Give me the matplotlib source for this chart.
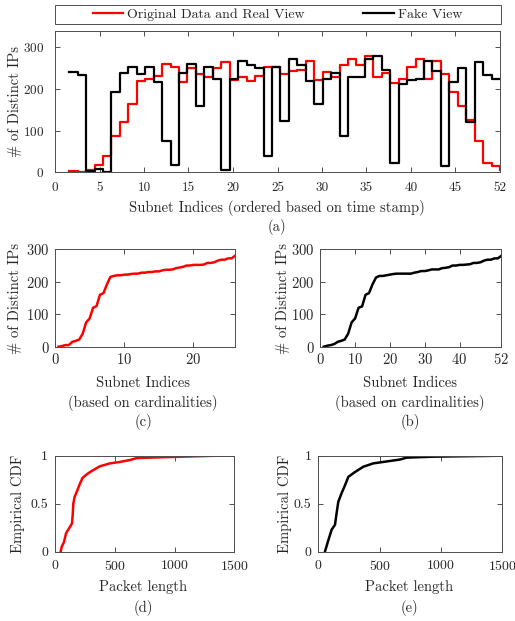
import matplotlib
matplotlib.use('Agg')
import matplotlib.pyplot as plt
import numpy as np
from matplotlib.patches import Rectangle

plt.rcParams['font.family'] = ['cmr10', 'DejaVu Serif']
plt.rcParams['mathtext.fontset'] = 'cm'
plt.rcParams['axes.formatter.use_mathtext'] = True

# ---------------------------------------------------------------------------
# data
# ---------------------------------------------------------------------------
# distinct IPs per subnet, ordered by time stamp (52 subnets)
real_view = [2, 0, 5, 18, 40, 87, 120, 165, 220, 224, 232, 260, 252, 218, 250,
             237, 230, 250, 265, 222, 230, 220, 232, 252, 253, 237, 244, 246,
             268, 222, 242, 228, 258, 272, 258, 280, 228, 238, 215, 225, 252,
             272, 225, 268, 235, 192, 160, 125, 75, 22, 15, 5]
fake_view = [242, 233, 3, 8, 0, 192, 238, 254, 235, 252, 218, 75, 18, 238, 260,
             160, 252, 225, 5, 225, 268, 258, 250, 40, 253, 124, 272, 258, 220,
             165, 225, 238, 87, 230, 228, 272, 280, 245, 22, 213, 222, 224, 268,
             243, 15, 218, 250, 120, 265, 233, 225, 225]

# empirical CDF of packet length
len_real = [47, 56, 75, 92, 111, 131, 142, 148, 153, 164, 187, 209, 231, 270,
            306, 376, 460, 543, 627, 682, 794, 1072, 1351, 1500]
cdf_real = [0, 0.05, 0.10, 0.19, 0.23, 0.27, 0.295, 0.38, 0.50, 0.57, 0.64,
            0.71, 0.77, 0.81, 0.84, 0.89, 0.92, 0.935, 0.955, 0.975, 0.98,
            0.99, 1.0, 1.0]
len_fake = [54, 82, 109, 136, 149, 163, 190, 217, 245, 299, 367, 448, 557, 666,
            720, 938, 1209, 1500]
cdf_fake = [0, 0.12, 0.23, 0.28, 0.40, 0.52, 0.61, 0.69, 0.78, 0.83, 0.885,
            0.92, 0.94, 0.96, 0.98, 0.99, 0.995, 1.0]

top_ticks = [0, 5, 10, 15, 20, 25, 30, 35, 40, 45, 50]
top_ticklabels = ['0', '5', '10', '15', '20', '25', '30', '35', '40', '45', '52']

W, H = 515, 621
fig = plt.figure(figsize=(W / 100, H / 100), dpi=100)
TXT = '#262626'


def box(l, t, r, b):
    # pixel box -> figure fraction
    return [l / W, 1 - b / H, (r - l) / W, (b - t) / H]


def style(ax, tsize, xpad, ypad):
    for s in ax.spines.values():
        s.set_color('0.3')
        s.set_linewidth(0.7)
    ax.tick_params(direction='in', length=3.5, width=0.7, color='0.3',
                   top=True, right=True, labelsize=tsize, labelcolor=TXT)
    ax.tick_params(axis='x', pad=xpad)
    ax.tick_params(axis='y', pad=ypad)


def ftext(x, y, s, size=10.5, rot=0):
    fig.text(x / W, 1 - y / H, s, ha='center', va='center', fontsize=size,
             color=TXT, rotation=rot)


# ---------------------------------------------------------------------------
# (a) time-ordered stairs
# ---------------------------------------------------------------------------
ax = fig.add_axes(box(55, 30.7, 500, 172.3))
x_top = np.linspace(1.6, 50, len(real_view))
l1, = ax.step(x_top, real_view, where='post', color='#ff0000', lw=1.6)
l2, = ax.step(x_top, fake_view, where='post', color='black', lw=1.6)
ax.set_xlim(0, 50)
ax.set_ylim(0, 340)
ax.set_xticks(top_ticks)
ax.set_xticklabels(top_ticklabels)
ax.set_yticks([0, 100, 200, 300])
style(ax, 9.5, 7, 8)
ftext(15, 101.5, '# of Distinct IPs', rot=90)
ftext(276.7, 208.3, 'Subnet Indices (ordered based on time stamp)')
ftext(276.7, 226.7, '(a)')

fig.patches.append(Rectangle((55 / W, 1 - 24.3 / H), 445.5 / W, 19.3 / H,
                             transform=fig.transFigure, fill=False,
                             edgecolor='0.3', lw=0.7))
fig.legend([l1, l2], ['Original Data and Real View', 'Fake View'],
           loc='center', bbox_to_anchor=(277.5 / W, 1 - 14.7 / H), ncol=2,
           frameon=False, fontsize=10, handlelength=2.2, handletextpad=0.3,
           columnspacing=4.2, borderpad=0, labelcolor=TXT)

# ---------------------------------------------------------------------------
# (c) and (b) sorted by cardinality
# ---------------------------------------------------------------------------
ax = fig.add_axes(box(55, 249.3, 235, 346.7))
real_sorted = np.sort(real_view)
ax.plot(np.arange(1, len(real_sorted) + 1) / 2, real_sorted, color='#ff0000', lw=1.8)
ax.set_xlim(0, 26)
ax.set_ylim(0, 300)
ax.set_xticks([0, 10, 20])
ax.set_yticks([0, 100, 200, 300])
style(ax, 10.5, 4, 4)
ftext(15, 298, '# of Distinct IPs', rot=90)
ftext(143, 382.7, 'Subnet Indices')
ftext(143, 403.3, '(based on cardinalities)')
ftext(143, 421.7, '(c)')

ax = fig.add_axes(box(320.3, 249.3, 501.3, 346.7))
fake_sorted = np.sort(fake_view)
ax.plot(np.arange(1, len(fake_sorted) + 1), fake_sorted, color='black', lw=1.8)
ax.set_xlim(0, 52)
ax.set_ylim(0, 300)
ax.set_xticks([0, 10, 20, 30, 40, 52])
ax.set_yticks([0, 100, 200, 300])
style(ax, 10.5, 4, 4)
ftext(283, 298, '# of Distinct IPs', rot=90)
ftext(410, 382.7, 'Subnet Indices')
ftext(410, 403.3, '(based on cardinalities)')
ftext(410, 421.7, '(b)')

# ---------------------------------------------------------------------------
# (d) and (e) packet length CDF
# ---------------------------------------------------------------------------
for (l, r, cx, yl_x, xs, ys, col, tag) in [
        (55, 234.3, 143, 18, len_real, cdf_real, '#ff0000', '(d)'),
        (318.3, 502.3, 409, 285, len_fake, cdf_fake, 'black', '(e)')]:
    ax = fig.add_axes(box(l, 455.7, r, 551.7))
    ax.plot(xs, ys, color=col, lw=1.8)
    ax.set_xlim(0, 1500)
    ax.set_ylim(0, 1)
    ax.set_xticks([0, 500, 1000, 1500])
    ax.set_yticks([0, 0.5, 1])
    ax.set_yticklabels(['0', '0.5', '1'])
    style(ax, 10, 5, 5)
    ftext(yl_x, 503.7, 'Empirical CDF', rot=90)
    ftext(cx, 586.7, 'Packet length')
    ftext(cx, 608.3, tag)

fig.savefig('out.png', dpi=100)
